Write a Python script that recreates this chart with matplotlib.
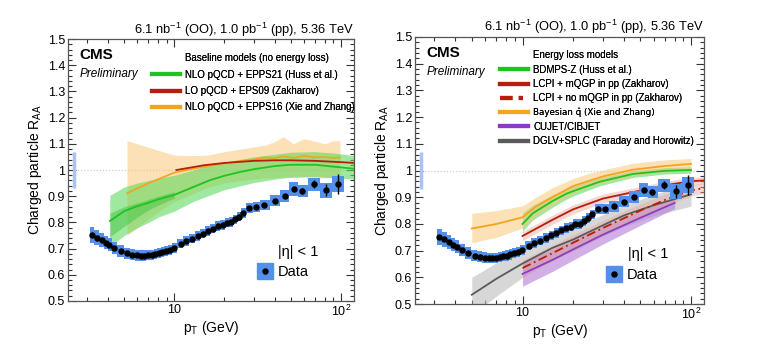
import numpy as np
import matplotlib
matplotlib.use("Agg")
import matplotlib.pyplot as plt
from matplotlib.lines import Line2D
from matplotlib.legend_handler import HandlerTuple
from matplotlib.ticker import FixedLocator, FixedFormatter, MultipleLocator, NullFormatter

plt.rcParams['font.family'] = ['Liberation Sans', 'DejaVu Sans']
plt.rcParams['mathtext.fontset'] = 'custom'
plt.rcParams['mathtext.rm'] = 'Liberation Sans'
plt.rcParams['mathtext.it'] = 'Liberation Sans:italic'
plt.rcParams['mathtext.bf'] = 'Liberation Sans:bold'

# ---- CMS data: charged particle R_AA in OO at 5.36 TeV ----
pt = [3.21, 3.42, 3.67, 3.89, 4.08, 4.35, 4.77, 5.19, 5.59, 5.96, 6.30, 6.59, 6.97, 7.34,
      7.71, 8.09, 8.47, 8.91, 9.37, 9.90, 10.9, 11.7, 12.7, 13.8, 14.8, 15.9, 17.0, 18.2,
      19.5, 20.6, 21.8, 23.1, 24.5, 26.0, 28.2, 31.0, 34.7, 40.2, 46.2, 52.4, 58.8, 68.8,
      81.3, 96.3]
raa = [0.751, 0.742, 0.732, 0.723, 0.715, 0.703, 0.690, 0.682, 0.677, 0.674, 0.673, 0.673,
       0.674, 0.676, 0.679, 0.682, 0.686, 0.690, 0.696, 0.703, 0.719, 0.729, 0.738, 0.748,
       0.757, 0.767, 0.776, 0.786, 0.790, 0.799, 0.801, 0.812, 0.822, 0.836, 0.856, 0.857,
       0.866, 0.883, 0.902, 0.927, 0.920, 0.945, 0.923, 0.947]
raa_sys = [0.031, 0.029, 0.027, 0.025, 0.024, 0.023, 0.022, 0.021, 0.021, 0.020, 0.020, 0.020,
           0.019, 0.019, 0.019, 0.019, 0.019, 0.019, 0.019, 0.019, 0.018, 0.018, 0.018, 0.018,
           0.018, 0.018, 0.018, 0.018, 0.018, 0.018, 0.018, 0.018, 0.018, 0.018, 0.019, 0.019,
           0.020, 0.021, 0.023, 0.026, 0.024, 0.024, 0.028, 0.030]
raa_stat = [0.003] * 38 + [0.006, 0.008, 0.012, 0.015, 0.024, 0.037]
global_unc = 0.07

# ---- baseline models (left) ----
epps21_pt = [4.1, 5, 6, 7, 8, 10, 13, 16.5, 20, 25, 30, 40, 50, 70, 90, 120]
epps21_c = [0.805, 0.843, 0.862, 0.875, 0.888, 0.905, 0.935, 0.962, 0.978, 0.993, 1.003,
            1.015, 1.020, 1.020, 1.013, 1.005]
epps21_lo = [0.707, 0.750, 0.780, 0.800, 0.820, 0.843, 0.880, 0.905, 0.925, 0.940, 0.952,
             0.965, 0.972, 0.975, 0.970, 0.965]
epps21_hi = [0.903, 0.935, 0.950, 0.960, 0.968, 0.980, 1.000, 1.020, 1.030, 1.040, 1.050,
             1.060, 1.068, 1.070, 1.065, 1.055]
epps21_in_pt = [4.1, 5, 6, 7, 8, 10]
epps21_in_lo = [0.745, 0.785, 0.820, 0.848, 0.866, 0.893]
epps21_in_hi = [0.835, 0.860, 0.875, 0.888, 0.900, 0.917]

eps09_pt = [10.3, 15, 20, 30, 40, 50, 70, 100, 120]
eps09_c = [1.000, 1.018, 1.027, 1.035, 1.037, 1.037, 1.035, 1.030, 1.027]

epps16_pt = [5.2, 6, 8, 10, 13, 16, 20, 25, 30, 35, 40, 45, 52, 60, 70, 80, 90, 99]
epps16_c = [0.911, 0.930, 0.965, 0.990, 1.005, 1.015, 1.025, 1.035, 1.040, 1.048, 1.045,
            1.052, 1.046, 1.054, 1.048, 1.050, 1.046, 1.048]
epps16_lo = [0.750, 0.780, 0.840, 0.880, 0.910, 0.935, 0.950, 0.960, 0.965, 0.970, 0.970,
             0.975, 0.972, 0.975, 0.970, 0.970, 0.972, 0.970]
epps16_hi = [1.112, 1.100, 1.075, 1.057, 1.055, 1.057, 1.070, 1.080, 1.088, 1.095, 1.108,
             1.127, 1.100, 1.120, 1.110, 1.100, 1.112, 1.112]

# ---- energy loss models (right) ----
bdmps_pt = [10, 11.5, 15, 18.2, 20, 28.7, 45, 70, 100]
bdmps_c = [0.800, 0.840, 0.885, 0.913, 0.923, 0.958, 0.987, 0.999, 1.002]
bdmps_lo = [0.773, 0.815, 0.862, 0.893, 0.905, 0.943, 0.974, 0.987, 0.990]
bdmps_hi = [0.842, 0.870, 0.908, 0.933, 0.942, 0.973, 1.000, 1.011, 1.014]

lcpi_pt = [10, 15, 20, 30, 50, 70, 100, 120]
lcpi_c = [0.755, 0.815, 0.855, 0.895, 0.925, 0.945, 0.960, 0.963]
lcpi_lo = [0.738, 0.798, 0.838, 0.878, 0.910, 0.930, 0.946, 0.950]
lcpi_hi = [0.772, 0.832, 0.872, 0.912, 0.940, 0.960, 0.974, 0.976]

lcpi0_pt = [10, 15, 20, 30, 50, 70, 100, 120]
lcpi0_c = [0.635, 0.690, 0.730, 0.785, 0.850, 0.890, 0.925, 0.935]
lcpi0_lo = [0.605, 0.660, 0.700, 0.757, 0.825, 0.868, 0.905, 0.915]
lcpi0_hi = [0.665, 0.720, 0.760, 0.813, 0.875, 0.912, 0.945, 0.955]

bayes_pt = [5, 7, 10, 12, 15, 20, 25, 30, 45, 70, 100]
bayes_c = [0.783, 0.800, 0.825, 0.865, 0.900, 0.942, 0.962, 0.978, 1.003, 1.017, 1.025]
bayes_lo = [0.730, 0.750, 0.785, 0.830, 0.870, 0.915, 0.940, 0.955, 0.980, 0.995, 1.000]
bayes_hi = [0.840, 0.850, 0.868, 0.900, 0.935, 0.970, 0.990, 1.002, 1.027, 1.040, 1.045]

cujet_pt = [10, 15, 20, 30, 50, 80]
cujet_c = [0.613, 0.665, 0.705, 0.760, 0.823, 0.879]
cujet_lo = [0.567, 0.622, 0.665, 0.725, 0.795, 0.858]
cujet_hi = [0.655, 0.705, 0.742, 0.792, 0.850, 0.898]

dglv_pt = [5, 7, 10, 15, 20, 30, 40, 60, 100]
dglv_c = [0.535, 0.595, 0.652, 0.710, 0.742, 0.795, 0.832, 0.870, 0.911]
dglv_lo = [0.460, 0.530, 0.600, 0.665, 0.700, 0.755, 0.790, 0.830, 0.867]
dglv_hi = [0.600, 0.655, 0.700, 0.755, 0.785, 0.835, 0.870, 0.910, 0.955]

GREEN, GREEN_B = '#1fc31f', '#5fd95f'
RED, PINK = '#b41e0a', '#e9a59a'
ORANGE, ORANGE_B = '#f4a41c', '#fbc77a'
PURPLE, PURPLE_B = '#8b3cc4', '#b57ad8'
GRAY, GRAY_B = '#5a5a5a', '#bdbdbd'
BLUE = '#5390ec'
LEG_FS = 7


def draw_data(ax):
    x = np.array(pt)
    lx = np.log(x)
    edges = np.exp(np.concatenate([[lx[0] - (lx[1] - lx[0]) / 2],
                                   (lx[1:] + lx[:-1]) / 2,
                                   [lx[-1] + (lx[-1] - lx[-2]) / 2]]))
    y = np.array(raa)
    s = np.array(raa_sys)
    ax.bar(edges[:-1], 2 * s, width=np.diff(edges), bottom=y - s, align='edge',
           color=BLUE, edgecolor='none', zorder=5)
    ax.errorbar(x, y, yerr=raa_stat, fmt='o', color='black', ms=3.6, elinewidth=1.0,
                capsize=0, zorder=6)
    ax.plot([2.5, 2.5], [1 - global_unc, 1 + global_unc], color='#a8c3f4', lw=2.5,
            solid_capstyle='butt', zorder=3)
    ax.axhline(1.0, color='#cfcfcf', lw=0.9, ls=(0, (1, 1.5)), zorder=1)


def band(ax, x, lo, hi, c, color, bcolor, alpha=0.55, ls='-', z=2):
    ax.fill_between(x, lo, hi, color=bcolor, alpha=alpha, lw=0, zorder=z)
    if c is not None:
        ax.plot(x, c, color=color, lw=1.3, ls=ls, zorder=z + 0.5)


def model_legend(ax, title, handles, labels, spacing, anchor):
    blank = Line2D([], [], color='none')
    leg = ax.legend([blank] + handles, [title] + labels, loc='upper left',
                    bbox_to_anchor=anchor, frameon=False, fontsize=LEG_FS,
                    handlelength=2.8, handletextpad=0.6, labelspacing=spacing,
                    borderpad=0, borderaxespad=0)
    ax.add_artist(leg)
    return leg


def style(ax):
    ax.set_xscale('log')
    ax.set_xlim(2.3, 120)
    ax.set_ylim(0.5, 1.5)
    ax.xaxis.set_major_locator(FixedLocator([10, 100]))
    ax.xaxis.set_major_formatter(FixedFormatter(['10', '$10^2$']))
    ax.xaxis.set_minor_locator(FixedLocator([3, 4, 5, 6, 7, 8, 9, 20, 30, 40, 50, 60, 70, 80, 90]))
    ax.xaxis.set_minor_formatter(NullFormatter())
    ax.set_yticks(np.round(np.arange(0.5, 1.51, 0.1), 1))
    ax.set_yticklabels(['0.5', '0.6', '0.7', '0.8', '0.9', '1', '1.1', '1.2', '1.3', '1.4', '1.5'])
    ax.yaxis.set_minor_locator(MultipleLocator(0.02))
    ax.tick_params(which='both', direction='in', top=True, right=True, labelsize=9,
                   width=0.8, colors='#333333', labelcolor='black')
    ax.tick_params(which='major', length=6, pad=2)
    ax.tick_params(which='minor', length=3)
    for sp in ax.spines.values():
        sp.set_color('#555555')
        sp.set_linewidth(0.9)
    ax.set_xlabel('p$_\\mathrm{T}$ (GeV)', fontsize=10, labelpad=0)
    ax.set_ylabel('Charged particle R$_\\mathrm{AA}$', fontsize=10, labelpad=3)
    ax.set_title('6.1 nb$^{-1}$ (OO), 1.0 pb$^{-1}$ (pp), 5.36 TeV', loc='right',
                 fontsize=9.3, pad=4)
    ax.text(0.04, 0.94, 'CMS', transform=ax.transAxes, fontsize=11, fontweight='bold',
            va='center')
    ax.text(0.04, 0.868, 'Preliminary', transform=ax.transAxes, fontsize=8.5,
            style='italic', va='center')
    ax.text(0.735, 0.187, '|η| < 1', transform=ax.transAxes, fontsize=10.5, va='center')
    h = (Line2D([], [], marker='s', ms=11, color=BLUE, ls='none'),
         Line2D([], [], marker='o', ms=3.6, color='black', ls='none'))
    leg = ax.legend([h], ['Data'], handler_map={tuple: HandlerTuple(ndivide=1, pad=0)},
                    loc='center left', bbox_to_anchor=(0.66, 0.11), frameon=False,
                    fontsize=10.5, handlelength=1.1, handletextpad=0.35, borderpad=0,
                    borderaxespad=0)
    ax.add_artist(leg)


fig = plt.figure(figsize=(7.8, 3.52), dpi=100)
axL = fig.add_axes([0.0872, 0.145, 0.3666, 0.744])
axR = fig.add_axes([0.532, 0.136, 0.371, 0.759])

# left panel
band(axL, epps16_pt, epps16_lo, epps16_hi, None, ORANGE, ORANGE_B, alpha=0.55)
band(axL, epps21_pt, epps21_lo, epps21_hi, None, GREEN, GREEN_B, alpha=0.6)
band(axL, epps21_in_pt, epps21_in_lo, epps21_in_hi, None, GREEN, '#3cbf3c', alpha=0.45)
axL.plot(epps21_pt, epps21_c, color=GREEN, lw=1.3, zorder=3)
axL.plot(epps16_pt, epps16_c, color=ORANGE, lw=1.2, zorder=3)
axL.plot(eps09_pt, eps09_c, color=RED, lw=1.3, zorder=3.5)
draw_data(axL)
style(axL)
model_legend(axL, 'Baseline models (no energy loss)',
             [Line2D([], [], color=GREEN, lw=3), Line2D([], [], color=RED, lw=3),
              Line2D([], [], color=ORANGE, lw=3)],
             ['NLO pQCD + EPPS21 (Huss et al.)', 'LO pQCD + EPS09 (Zakharov)',
              'NLO pQCD + EPPS16 (Xie and Zhang)'],
             0.65, (0.295, 0.945))

# right panel
band(axR, dglv_pt, dglv_lo, dglv_hi, dglv_c, GRAY, GRAY_B, alpha=0.6)
band(axR, cujet_pt, cujet_lo, cujet_hi, cujet_c, PURPLE, PURPLE_B, alpha=0.6)
band(axR, lcpi0_pt, lcpi0_lo, lcpi0_hi, None, RED, PINK, alpha=0.45)
axR.plot(lcpi0_pt, lcpi0_c, color=RED, lw=1.3, ls=(0, (5, 2, 1, 2)), zorder=3.5)
band(axR, lcpi_pt, lcpi_lo, lcpi_hi, lcpi_c, RED, PINK, alpha=0.45)
band(axR, bdmps_pt, bdmps_lo, bdmps_hi, bdmps_c, GREEN, GREEN_B, alpha=0.6)
band(axR, bayes_pt, bayes_lo, bayes_hi, bayes_c, ORANGE, ORANGE_B, alpha=0.55)
draw_data(axR)
style(axR)
legR = model_legend(axR, 'Energy loss models',
                    [Line2D([], [], color=GREEN, lw=3), Line2D([], [], color=RED, lw=3),
                     Line2D([], [], color=RED, lw=3, ls=(0, (3, 1.5, 1, 1.5))),
                     Line2D([], [], color=ORANGE, lw=3), Line2D([], [], color=PURPLE, lw=3),
                     Line2D([], [], color=GRAY, lw=3)],
                    ['BDMPS-Z (Huss et al.)', 'LCPI + mQGP in pp (Zakharov)',
                     'LCPI + no mQGP in pp (Zakharov)', 'Bayesian q\u0302 (Xie and Zhang)',
                     'CUJET/CIBJET', 'DGLV+SPLC (Faraday and Horowitz)'],
                    0.45, (0.295, 0.95))
legR.get_texts()[4].set_fontfamily('DejaVu Sans')
legR.get_texts()[4].set_fontsize(6.3)

fig.savefig('out.png', dpi=100)
